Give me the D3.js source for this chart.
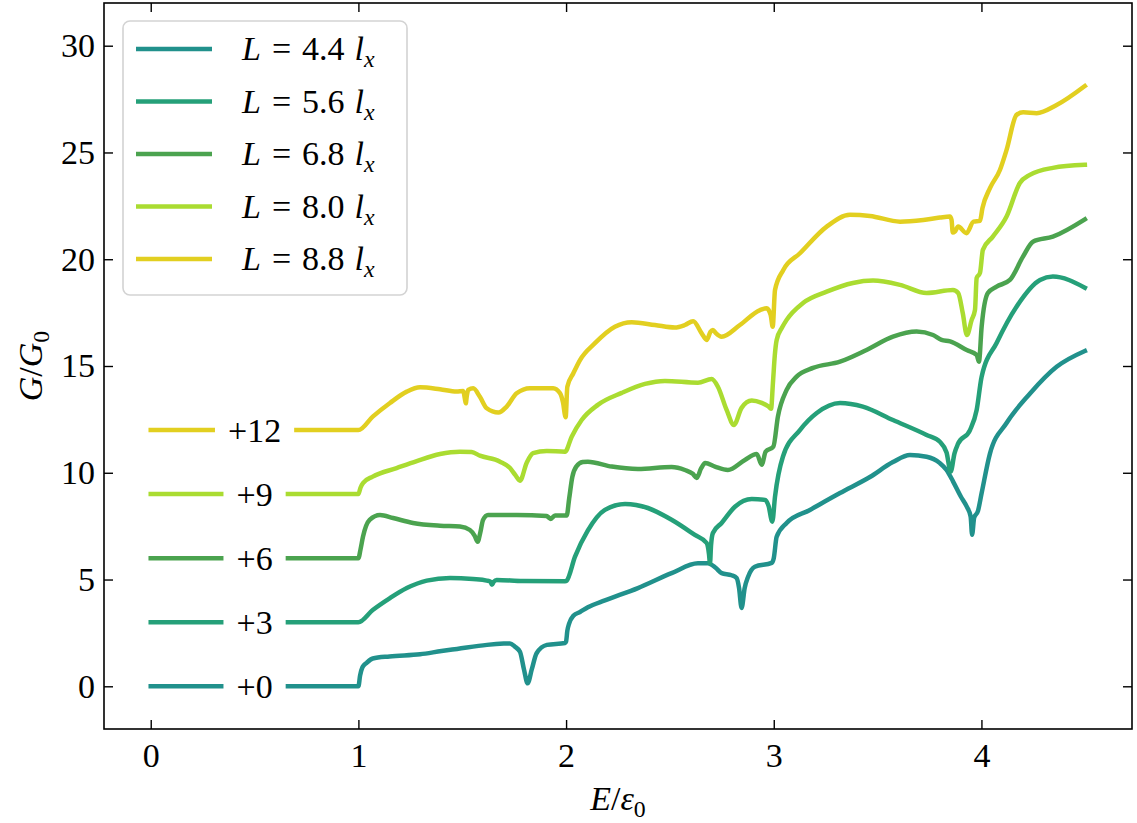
<!DOCTYPE html>
<html>
<head>
<meta charset="utf-8">
<script src="https://cdn.jsdelivr.net/npm/d3@7"></script>
<style>
  body { margin: 0; background: #fff; }
  svg { display: block; }
  svg text { font-family: "Liberation Serif", "DejaVu Serif", "Noto Serif", "Times New Roman", serif; }
</style>
</head>
<body>
<svg id="chart" width="1137" height="823"></svg>
<script>
// Conductance G/G0 versus energy E/eps0 for five sample lengths.
// Curves are shifted vertically by the listed offsets for readability.

const lengths = ["4.4", "5.6", "6.8", "8.0", "8.8"];
const offsets = [0, 3, 6, 9, 12];
const colors = ["#21918c", "#25a079", "#4ba34f", "#aadc31", "#e2cf20"];
const xTicks = [0, 1, 2, 3, 4];
const yTicks = [0, 5, 10, 15, 20, 25, 30];

// L = 4.4 l_x
const energyL44 = [0, 1.0, 1.008, 1.02, 1.04, 1.069, 1.15, 1.297, 1.40, 1.475, 1.619, 1.70, 1.73, 1.754, 1.778, 1.797, 1.815, 1.835, 1.858, 1.908, 1.995, 2.0, 2.006, 2.015, 2.035, 2.067, 2.105, 2.187, 2.346, 2.508, 2.635, 2.683, 2.72, 2.749, 2.797, 2.821, 2.833, 2.845, 2.86, 2.876, 2.909, 2.99, 3.0, 3.014, 3.062, 3.174, 3.319, 3.463, 3.574, 3.656, 3.736, 3.80, 3.832, 3.863, 3.90, 3.93, 3.948, 3.955, 3.965, 3.983, 4.001, 4.041, 4.121, 4.233, 4.362, 4.498];
const condL44 = [0, 0, 0.5, 0.9, 1.1, 1.3, 1.4, 1.5, 1.65, 1.75, 1.94, 2.0, 2.01, 1.85, 1.62, 0.8, 0.14, 0.8, 1.55, 1.94, 2.03, 2.1, 2.6, 2.95, 3.3, 3.48, 3.7, 4.02, 4.6, 5.3, 5.76, 5.76, 5.55, 5.3, 5.2, 5.07, 4.6, 3.67, 4.6, 5.12, 5.6, 5.78, 6.0, 7.0, 7.65, 8.26, 9.05, 9.8, 10.5, 10.83, 10.75, 10.45, 10.13, 9.6, 8.9, 8.4, 7.95, 7.1, 7.9, 8.2, 9.05, 10.9, 12.33, 13.7, 14.96, 15.7];

// L = 5.6 l_x
const energyL56 = [0, 1.0, 1.069, 1.152, 1.233, 1.329, 1.441, 1.552, 1.618, 1.636, 1.643, 1.652, 1.666, 1.792, 1.995, 2.003, 2.043, 2.105, 2.187, 2.284, 2.394, 2.508, 2.62, 2.677, 2.688, 2.693, 2.698, 2.707, 2.749, 2.813, 2.894, 2.958, 2.975, 2.993, 3.006, 3.044, 3.126, 3.207, 3.319, 3.429, 3.574, 3.736, 3.80, 3.832, 3.852, 3.87, 3.887, 3.945, 3.977, 4.001, 4.073, 4.169, 4.282, 4.344, 4.498];
const condL56 = [0, 0, 0.57, 1.13, 1.6, 1.95, 2.07, 2.02, 1.95, 1.9, 1.75, 1.9, 1.98, 1.93, 1.92, 1.95, 3.07, 4.3, 5.26, 5.54, 5.35, 4.8, 4.09, 3.71, 3.2, 2.75, 3.6, 4.18, 4.65, 5.41, 5.77, 5.73, 5.45, 4.71, 5.88, 7.75, 9.0, 9.8, 10.27, 10.1, 9.47, 8.77, 8.45, 7.95, 7.05, 7.9, 8.35, 9.0, 9.94, 11.5, 13.08, 14.78, 16.03, 16.19, 15.67];

// L = 6.8 l_x
const energyL68 = [0, 1.0, 1.01, 1.022, 1.054, 1.104, 1.167, 1.263, 1.393, 1.489, 1.537, 1.56, 1.574, 1.587, 1.60, 1.624, 1.762, 1.907, 1.917, 1.926, 1.937, 1.947, 2.003, 2.015, 2.03, 2.05, 2.08, 2.105, 2.220, 2.346, 2.508, 2.572, 2.61, 2.629, 2.65, 2.67, 2.717, 2.779, 2.861, 2.918, 2.942, 2.961, 2.998, 3.020, 3.062, 3.110, 3.189, 3.319, 3.447, 3.574, 3.688, 3.767, 3.808, 3.849, 3.929, 3.977, 3.988, 4.001, 4.031, 4.073, 4.137, 4.200, 4.248, 4.344, 4.498];
const condL68 = [0, 0, 0.4, 1.0, 1.79, 2.02, 1.88, 1.65, 1.52, 1.48, 1.32, 1.05, 0.77, 1.2, 1.79, 2.02, 2.02, 1.97, 1.9, 1.84, 1.93, 2.0, 2.0, 2.8, 3.8, 4.3, 4.5, 4.52, 4.29, 4.18, 4.27, 4.13, 3.95, 3.76, 4.2, 4.46, 4.29, 4.13, 4.6, 4.88, 4.37, 4.99, 5.22, 6.63, 7.88, 8.5, 8.91, 9.2, 9.75, 10.37, 10.61, 10.45, 10.22, 10.15, 9.75, 9.52, 9.2, 10.84, 12.42, 12.72, 13.03, 14.12, 14.82, 15.06, 15.87];

// L = 8.0 l_x
const energyL80 = [0, 1.0, 1.01, 1.022, 1.069, 1.184, 1.281, 1.393, 1.489, 1.545, 1.585, 1.682, 1.730, 1.755, 1.778, 1.81, 1.841, 1.907, 1.995, 2.027, 2.075, 2.153, 2.268, 2.380, 2.476, 2.635, 2.701, 2.731, 2.773, 2.808, 2.845, 2.894, 2.942, 2.975, 2.987, 2.996, 3.005, 3.014, 3.04, 3.062, 3.141, 3.255, 3.381, 3.478, 3.608, 3.736, 3.863, 3.888, 3.910, 3.930, 3.953, 3.969, 3.977, 3.993, 4.007, 4.055, 4.121, 4.185, 4.233, 4.344, 4.498];
const condL80 = [0, 0, 0.3, 0.52, 0.82, 1.22, 1.55, 1.88, 1.99, 1.97, 1.8, 1.52, 1.22, 0.9, 0.63, 1.46, 1.92, 2.02, 1.99, 2.69, 3.47, 4.18, 4.74, 5.16, 5.3, 5.22, 5.39, 5.03, 3.94, 3.24, 4.04, 4.38, 4.27, 4.1, 4.0, 5.2, 6.5, 7.22, 7.8, 8.16, 8.95, 9.48, 9.89, 10.0, 9.8, 9.42, 9.56, 9.42, 8.48, 7.45, 8.16, 8.63, 10.12, 10.36, 11.44, 12.06, 13.0, 14.57, 14.95, 15.28, 15.42];

// L = 8.8 l_x
const energyL88 = [0, 1.0, 1.069, 1.152, 1.233, 1.297, 1.393, 1.473, 1.505, 1.512, 1.517, 1.522, 1.529, 1.553, 1.585, 1.618, 1.674, 1.714, 1.762, 1.826, 1.938, 1.971, 1.985, 1.998, 2.006, 2.035, 2.067, 2.139, 2.235, 2.316, 2.428, 2.524, 2.572, 2.612, 2.653, 2.677, 2.695, 2.707, 2.72, 2.749, 2.837, 2.934, 2.966, 2.985, 2.995, 3.006, 3.046, 3.126, 3.255, 3.367, 3.463, 3.608, 3.720, 3.80, 3.848, 3.856, 3.862, 3.872, 3.888, 3.928, 3.962, 3.993, 4.005, 4.041, 4.089, 4.121, 4.169, 4.201, 4.266, 4.362, 4.498];
const condL88 = [0, 0, 0.63, 1.27, 1.8, 2.0, 1.91, 1.8, 1.83, 1.5, 1.25, 1.6, 1.88, 1.96, 1.56, 1.02, 0.82, 1.1, 1.72, 1.96, 1.96, 1.72, 1.3, 0.6, 2.03, 2.66, 3.28, 4.07, 4.84, 5.05, 4.92, 4.8, 4.92, 5.1, 4.53, 4.22, 4.6, 4.69, 4.55, 4.37, 4.92, 5.62, 5.7, 5.4, 4.84, 6.56, 7.5, 8.28, 9.53, 10.08, 10.03, 9.76, 9.84, 9.95, 10.0, 9.85, 9.25, 9.3, 9.53, 9.22, 9.76, 9.8, 10.4, 11.33, 12.18, 13.12, 14.76, 14.88, 14.84, 15.22, 16.11];

const energies = [energyL44, energyL56, energyL68, energyL80, energyL88];
const conductances = [condL44, condL56, condL68, condL80, condL88];

const W = 1137, H = 823;
const plot = { left: 104, right: 1132, top: 3, bottom: 729 };
const fs = 34;
const lw = 4.5;

const svg = d3.select("#chart");
svg.append("rect").attr("width", W).attr("height", H).attr("fill", "#fff");

const x = d3.scaleLinear().domain([-0.225, 4.725]).range([plot.left, plot.right]);
const y = d3.scaleLinear().domain([-2, 32]).range([plot.bottom, plot.top]);

// Curves
const line = d3.line()
  .x(d => x(d[0]))
  .y(d => y(d[1]))
  .curve(d3.curveMonotoneX);

svg.append("clipPath").attr("id", "plotclip")
  .append("rect")
  .attr("x", plot.left).attr("y", plot.top)
  .attr("width", plot.right - plot.left).attr("height", plot.bottom - plot.top);
const curves = svg.append("g").attr("clip-path", "url(#plotclip)");

lengths.forEach((L, i) => {
  const pts = energies[i].map((e, k) => [e, conductances[i][k] + offsets[i]]);
  curves.append("path")
    .datum(pts)
    .attr("d", line)
    .attr("fill", "none")
    .attr("stroke", colors[i])
    .attr("stroke-width", lw)
    .attr("stroke-linecap", "square")
    .attr("stroke-linejoin", "round");
});

// Offset labels on white boxes
offsets.forEach((off, i) => {
  const g = svg.append("g");
  const bg = g.append("rect").attr("fill", "#fff");
  const t = g.append("text")
    .attr("x", x(0.5))
    .attr("y", y(off))
    .attr("dy", "0.34em")
    .attr("text-anchor", "middle")
    .attr("font-size", fs)
    .attr("fill", "#000")
    .text("+" + off);
  const bb = t.node().getBBox();
  const pad = 13;
  bg.attr("x", bb.x - pad).attr("y", bb.y - 4)
    .attr("width", bb.width + 2 * pad).attr("height", bb.height + 8);
});

// Axes with inward ticks on all four sides
const tickLen = 9;
function styleAxis(g) {
  g.attr("font-family", null);
  g.select(".domain").remove();
  g.selectAll(".tick line").attr("stroke", "#000").attr("stroke-width", 1.4);
  g.selectAll(".tick text")
    .attr("font-size", fs)
    .attr("fill", "#000");
}

svg.append("g")
  .attr("transform", `translate(0,${plot.bottom})`)
  .call(d3.axisBottom(x).tickValues(xTicks).tickFormat(d3.format("d"))
    .tickSizeInner(-tickLen).tickSizeOuter(0).tickPadding(14))
  .call(styleAxis);

svg.append("g")
  .attr("transform", `translate(0,${plot.top})`)
  .call(d3.axisTop(x).tickValues(xTicks).tickFormat("")
    .tickSizeInner(-tickLen).tickSizeOuter(0))
  .call(styleAxis);

svg.append("g")
  .attr("transform", `translate(${plot.left},0)`)
  .call(d3.axisLeft(y).tickValues(yTicks).tickFormat(d3.format("d"))
    .tickSizeInner(-tickLen).tickSizeOuter(0).tickPadding(9))
  .call(styleAxis);

svg.append("g")
  .attr("transform", `translate(${plot.right},0)`)
  .call(d3.axisRight(y).tickValues(yTicks).tickFormat("")
    .tickSizeInner(-tickLen).tickSizeOuter(0))
  .call(styleAxis);

// Frame
svg.append("rect")
  .attr("x", plot.left).attr("y", plot.top)
  .attr("width", plot.right - plot.left).attr("height", plot.bottom - plot.top)
  .attr("fill", "none").attr("stroke", "#000").attr("stroke-width", 1.6);

// Math-style text helper: parts = [{t, it, sub, dx}]
function mathText(sel, parts, size) {
  parts.forEach(p => {
    const ts = sel.append("tspan").text(p.t);
    if (p.it) ts.attr("font-style", "italic");
    if (p.dx) ts.attr("dx", p.dx);
    if (p.sub) ts.attr("font-size", size * 0.7).attr("dy", size * 0.22);
  });
}

// Axis titles
const xl = svg.append("text")
  .attr("x", (plot.left + plot.right) / 2)
  .attr("y", 810)
  .attr("text-anchor", "middle")
  .attr("font-size", fs);
mathText(xl, [{ t: "E", it: true }, { t: "/" }, { t: "ε", it: true }, { t: "0", sub: true }], fs);

const yl = svg.append("text")
  .attr("transform", `translate(42,${(plot.top + plot.bottom) / 2}) rotate(-90)`)
  .attr("text-anchor", "middle")
  .attr("font-size", fs);
mathText(yl, [{ t: "G", it: true }, { t: "/" }, { t: "G", it: true }, { t: "0", sub: true }], fs);

// Legend
const leg = svg.append("g");
leg.append("rect")
  .attr("x", 123).attr("y", 21).attr("width", 284).attr("height", 274)
  .attr("rx", 7)
  .attr("fill", "#fff").attr("fill-opacity", 0.8)
  .attr("stroke", "#d3d3d3").attr("stroke-width", 1.6);

lengths.forEach((L, i) => {
  const cy = 49 + i * 52.5;
  leg.append("line")
    .attr("x1", 136).attr("x2", 212)
    .attr("y1", cy).attr("y2", cy)
    .attr("stroke", colors[i]).attr("stroke-width", lw);
  const t = leg.append("text")
    .attr("x", 242)
    .attr("y", cy + 11)
    .attr("font-size", fs)
    .attr("fill", "#000");
  mathText(t, [
    { t: "L", it: true },
    { t: "=", dx: 11 },
    { t: L, dx: 11 },
    { t: "l", it: true, dx: 10 },
    { t: "x", it: true, sub: true }
  ], fs);
});
</script>
</body>
</html>
